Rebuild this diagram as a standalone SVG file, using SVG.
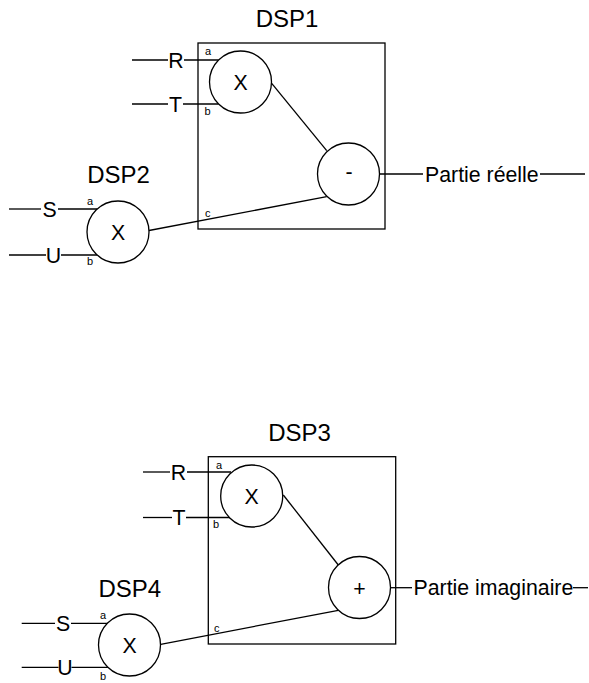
<svg xmlns="http://www.w3.org/2000/svg" width="589" height="683" viewBox="0 0 589 683">
<style>
.ln{stroke:#000;stroke-width:1.3;fill:none}
.bx{stroke:#000;stroke-width:1.3;fill:none}
.op{stroke:#000;stroke-width:1.3;fill:#fff}
text{font-family:"Liberation Sans",Arial,sans-serif;fill:#000}
.t{font-size:24px;text-anchor:middle}
.m{font-size:21.3px}
.c{text-anchor:middle}
.s{font-size:11px}
</style>
<rect width="589" height="683" fill="#fff"/>
<g id="connectors">
<line class="ln" x1="132" y1="60" x2="168" y2="60"/>
<line class="ln" x1="184" y1="60" x2="218.5" y2="60"/>
<line class="ln" x1="132" y1="104" x2="168" y2="104"/>
<line class="ln" x1="183" y1="104" x2="218.5" y2="104"/>
<line class="ln" x1="271.7" y1="83.3" x2="326.7" y2="150.7"/>
<line class="ln" x1="149" y1="230.5" x2="326.7" y2="196.7"/>
<line class="ln" x1="379.5" y1="174" x2="423" y2="174"/>
<line class="ln" x1="540" y1="174" x2="585" y2="174"/>
<line class="ln" x1="9" y1="209" x2="41" y2="209"/>
<line class="ln" x1="58" y1="209" x2="97.5" y2="209"/>
<line class="ln" x1="9" y1="255" x2="46" y2="255"/>
<line class="ln" x1="61" y1="255" x2="97.5" y2="255"/>
<line class="ln" x1="143" y1="472" x2="170" y2="472"/>
<line class="ln" x1="187" y1="472" x2="231" y2="472"/>
<line class="ln" x1="143" y1="517.5" x2="172" y2="517.5"/>
<line class="ln" x1="186" y1="517.5" x2="230" y2="517.5"/>
<line class="ln" x1="283.3" y1="495" x2="338.3" y2="565"/>
<line class="ln" x1="160.7" y1="644.3" x2="338.3" y2="610.3"/>
<line class="ln" x1="390.7" y1="587.7" x2="412" y2="587.7"/>
<line class="ln" x1="573" y1="587.7" x2="588" y2="587.7"/>
<line class="ln" x1="21.7" y1="623.3" x2="55" y2="623.3"/>
<line class="ln" x1="71" y1="623.3" x2="107.5" y2="623.3"/>
<line class="ln" x1="21.7" y1="667.3" x2="58.5" y2="667.3"/>
<line class="ln" x1="71.5" y1="667.3" x2="108" y2="667.3"/>
</g>
<g id="DSP1">
<rect class="bx" x="198" y="43" width="187" height="186"/>
<text class="t" x="287" y="27">DSP1</text>
<text class="s" x="205" y="55">a</text>
<text class="s" x="204.5" y="114.5">b</text>
<text class="s" x="205" y="217">c</text>
</g>
<g id="DSP1-mul">
<circle class="op" cx="240.5" cy="82" r="31"/>
<text class="m c" x="240.5" y="89.6">X</text>
</g>
<g id="DSP1-sub">
<circle class="op" cx="348.5" cy="174" r="31"/>
<text class="m c" x="349" y="179">-</text>
</g>
<g id="in-R1"><text class="m c" x="176" y="67.6">R</text></g>
<g id="in-T1"><text class="m c" x="175.5" y="111.6">T</text></g>
<g id="out1"><text class="m" x="425" y="181.5">Partie réelle</text></g>
<g id="DSP2">
<text class="t" x="118.5" y="183">DSP2</text>
<circle class="op" cx="118" cy="232" r="31"/>
<text class="m c" x="118" y="239.6">X</text>
<text class="s" x="87" y="205">a</text>
<text class="s" x="87" y="265">b</text>
</g>
<g id="in-S2"><text class="m c" x="49.5" y="216.6">S</text></g>
<g id="in-U2"><text class="m c" x="53.5" y="262.6">U</text></g>
<g id="DSP3">
<rect class="bx" x="208.3" y="456.7" width="187.4" height="187.3"/>
<text class="t" x="299.5" y="441">DSP3</text>
<text class="s" x="216" y="468.5">a</text>
<text class="s" x="213" y="527.5">b</text>
<text class="s" x="214" y="632">c</text>
</g>
<g id="DSP3-mul">
<circle class="op" cx="251.7" cy="496" r="31"/>
<text class="m c" x="251.7" y="503.6">X</text>
</g>
<g id="DSP3-add">
<circle class="op" cx="359.5" cy="587.5" r="31"/>
<text class="m c" x="359.5" y="595.5">+</text>
</g>
<g id="in-R3"><text class="m c" x="178.5" y="479.6">R</text></g>
<g id="in-T3"><text class="m c" x="179" y="525.1">T</text></g>
<g id="out3"><text class="m" x="413.5" y="595.3">Partie imaginaire</text></g>
<g id="DSP4">
<text class="t" x="129.8" y="596.7">DSP4</text>
<circle class="op" cx="129.5" cy="645" r="31"/>
<text class="m c" x="129.5" y="652.6">X</text>
<text class="s" x="100" y="619">a</text>
<text class="s" x="100" y="680">b</text>
</g>
<g id="in-S4"><text class="m c" x="63" y="630.9">S</text></g>
<g id="in-U4"><text class="m c" x="65" y="674.9">U</text></g>
</svg>
